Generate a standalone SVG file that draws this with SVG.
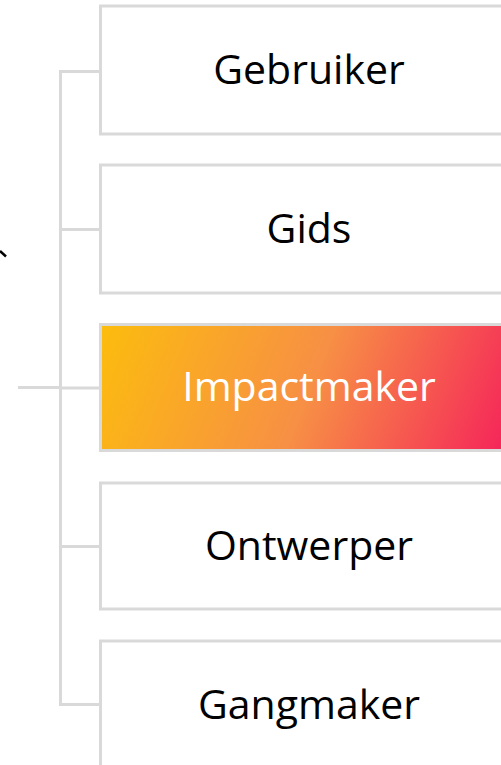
<svg xmlns="http://www.w3.org/2000/svg" width="501" height="765" viewBox="0 0 501 765">
<style>
.c{fill:none;stroke:#d9d9d9;stroke-width:3}
.b{fill:#ffffff;stroke:#d9d9d9;stroke-width:3}
.t{font-family:"Open Sans","Liberation Sans",sans-serif;font-size:41px;text-anchor:middle;fill:#000000}
</style>
<defs>
<linearGradient id="g" gradientUnits="userSpaceOnUse" x1="105" y1="300" x2="520" y2="470">
<stop offset="0" stop-color="#fcbe0c"/>
<stop offset="0.5" stop-color="#f78f45"/>
<stop offset="1" stop-color="#f5195c"/>
</linearGradient>
</defs>
<path d="M0,251 L6,256.5" stroke="#000" stroke-width="2.5" fill="none"/>
<g id="connectors">
<path class="c" d="M18,387.5 H60.5 M60.5,70 V704 M59,71.5 H100 M59,229.5 H100 M59,388 H100 M59,546.5 H100 M59,704.5 H100"/>
</g>
<g id="n1"><rect class="b" x="100.5" y="6" width="420" height="128"/><text class="t" x="309" y="84">Gebruiker</text></g>
<g id="n2"><rect class="b" x="100.5" y="165" width="420" height="128"/><text class="t" x="309" y="243">Gids</text></g>
<g id="n3"><rect x="100.5" y="324.5" width="420" height="126" fill="url(#g)" stroke="#d9d9d9" stroke-width="3"/><text class="t" x="309" y="401" style="fill:#ffffff">Impactmaker</text></g>
<g id="n4"><rect class="b" x="100.5" y="483" width="420" height="126"/><text class="t" x="309" y="560">Ontwerper</text></g>
<g id="n5"><rect class="b" x="100.5" y="641" width="420" height="140"/><text class="t" x="309" y="719">Gangmaker</text></g>
</svg>
